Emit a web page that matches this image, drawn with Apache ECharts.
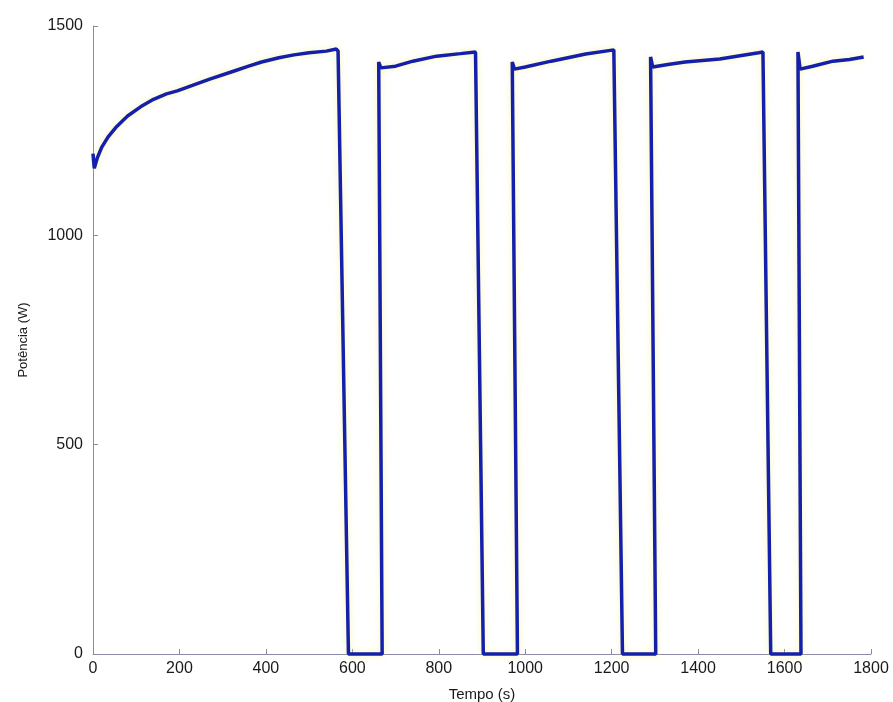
<!DOCTYPE html>
<html>
<head>
<meta charset="utf-8">
<script src="https://cdn.jsdelivr.net/npm/echarts@6/dist/echarts.min.js"></script>
<style>
    html, body { margin: 0; padding: 0; background: #ffffff; }
    #chart { width: 893px; height: 702px; }
</style>
</head>
<body>
<div id="chart"></div>
<script>
// tempo (s) e potência (W)
const tempo = [
    0, 3, 10, 20, 35, 55, 80, 110, 140, 170, 195, 230, 270, 325, 360, 390, 430, 465, 500, 540, 563, 567, 591,
    669, 661, 666, 700, 740, 795, 850, 885, 903,
    982, 970, 975, 1000, 1060, 1140, 1205, 1209, 1225,
    1302, 1290, 1295, 1330, 1370, 1450, 1540, 1550, 1568,
    1638, 1631, 1636, 1665, 1712, 1750, 1783
]
const potencia = [
    1195, 1160, 1185, 1210, 1235, 1260, 1285, 1307, 1325, 1338, 1345, 1358, 1373, 1392, 1404, 1414, 1424, 1431, 1436, 1440, 1445, 1440, 0,
    0, 1414, 1400, 1404, 1416, 1428, 1434, 1438, 0,
    0, 1414, 1397, 1402, 1416, 1433, 1443, 1443, 0,
    0, 1426, 1402, 1408, 1414, 1421, 1436, 1438, 0,
    0, 1438, 1397, 1404, 1416, 1420, 1426
]
const xTicks = [0, 200, 400, 600, 800, 1000, 1200, 1400, 1600, 1800]
const yTicks = [0, 500, 1000, 1500]

const chart = echarts.init(document.getElementById('chart'))

const axisColor = '#8a8aa6'
const textColor = '#1a1a1a'

chart.setOption({
    animation: false,
    grid: { left: 93, right: 22, top: 26, bottom: 48, outerBoundsMode: 'none', containLabel: false },
    xAxis: {
        type: 'value',
        min: xTicks[0],
        max: xTicks[xTicks.length - 1],
        interval: 200,
        name: 'Tempo (s)',
        nameLocation: 'middle',
        nameGap: 33,
        nameTextStyle: { fontFamily: 'Liberation Sans', fontSize: 15, color: textColor },
        axisLine: { lineStyle: { color: axisColor, width: 1 } },
        axisTick: { inside: true, length: 5, lineStyle: { color: axisColor } },
        axisLabel: { fontFamily: 'Liberation Sans', fontSize: 16, color: textColor, margin: 7, formatter: v => String(v) },
        splitLine: { show: false }
    },
    yAxis: {
        type: 'value',
        min: yTicks[0],
        max: yTicks[yTicks.length - 1],
        interval: 500,
        name: 'Potência (W)',
        nameLocation: 'middle',
        nameGap: 63,
        nameTextStyle: { fontFamily: 'Liberation Sans', fontSize: 13, color: textColor },
        axisLine: { show: true, lineStyle: { color: axisColor, width: 1 } },
        axisTick: { show: true, inside: true, length: 5, lineStyle: { color: axisColor } },
        axisLabel: { fontFamily: 'Liberation Sans', fontSize: 16, color: textColor, margin: 10, formatter: v => String(v) },
        splitLine: { show: false }
    },
    series: [{
        type: 'line',
        data: tempo.map((t, i) => [t, potencia[i]]),
        showSymbol: false,
        lineStyle: {
            color: '#1420aa',
            width: 3.5,
            shadowColor: 'rgba(245, 235, 120, 0.6)',
            shadowBlur: 6
        },
        clip: false
    }]
})
</script>
</body>
</html>
